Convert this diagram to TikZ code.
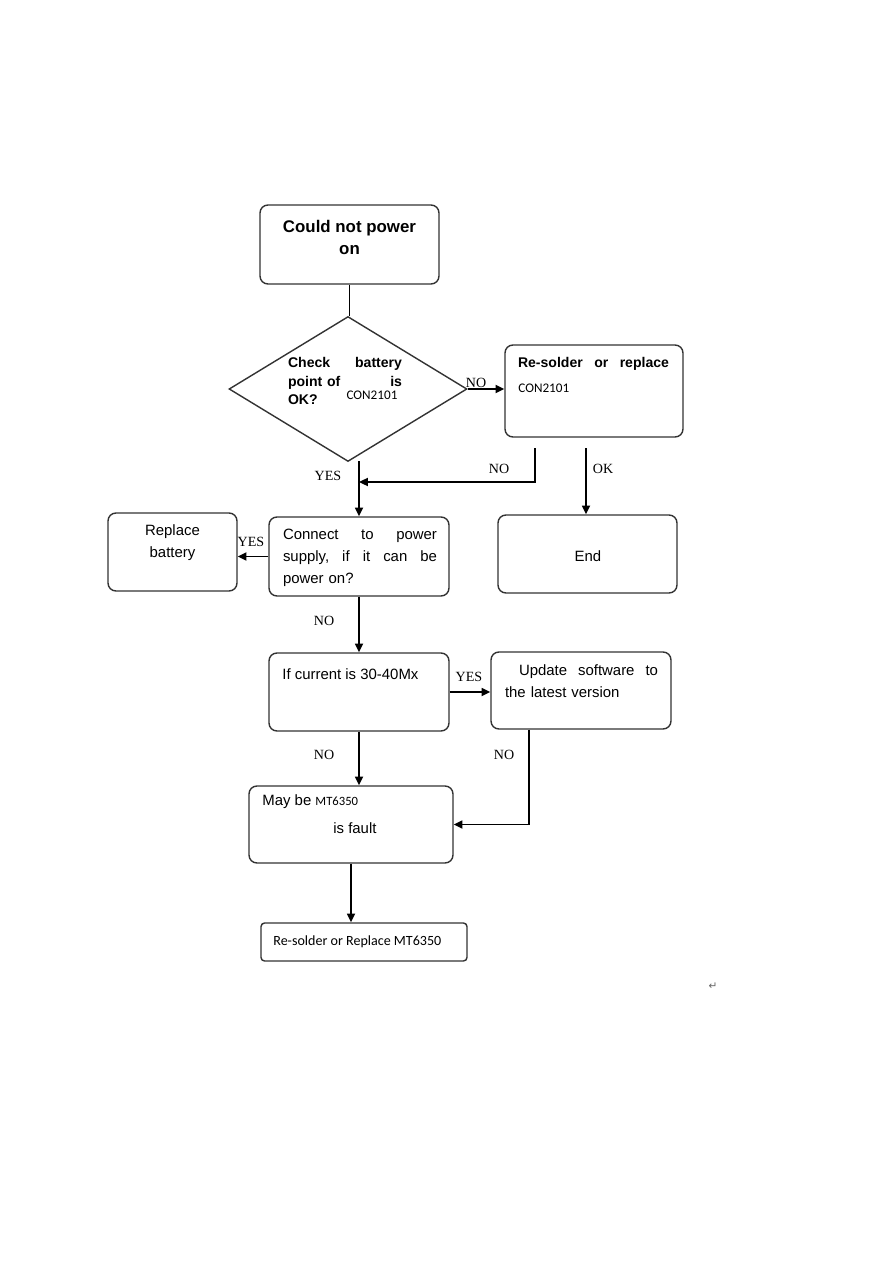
\documentclass[tikz,border=0pt]{standalone}
\usepackage{fontspec}
\setmainfont{Liberation Sans}
\newfontfamily\calfont{Carlito}
\newfontfamily\tmsfont{Liberation Serif}
\newfontfamily\djfont{DejaVu Sans}
\usetikzlibrary{arrows.meta,shapes.geometric}
\begin{document}
\begin{tikzpicture}[x=0.02cm,y=-0.02cm,
  box/.style={draw=black!80, line width=0.8pt, rounded corners=4.5pt, inner sep=0pt},
  arr/.style={draw, line width=1.1pt, -{Triangle[length=5pt,width=4.5pt]}},
  ln/.style={draw, line width=1.1pt},
  lbl/.style={font=\tmsfont\fontsize{8}{9}\selectfont, inner sep=0pt},
  txt/.style={font=\fontsize{8.5}{12.5}\selectfont, inner sep=0pt},
  btxt/.style={font=\bfseries\fontsize{8}{10.8}\selectfont, inner sep=0pt},
  ctxt/.style={inner sep=0pt}]
\useasboundingbox (0,0) rectangle (884,1263);

% boxes
\node[box, minimum width=35.8mm, minimum height=15.8mm] (top) at (349.5,244.5) {};
\node[diamond, draw=black!80, line width=0.8pt, inner sep=0pt, minimum width=47.6mm, minimum height=29mm] (dia) at (348,389) {};
\node[box, minimum width=35.6mm, minimum height=18.4mm] (res) at (594,391) {};
\node[box, minimum width=25.8mm, minimum height=15.6mm] (rep) at (172.5,552) {};
\node[box, minimum width=36mm, minimum height=15.8mm] (con) at (359,556.5) {};
\node[box, minimum width=35.8mm, minimum height=15.6mm] (end) at (587.5,554) {};
\node[box, minimum width=36mm, minimum height=15.6mm] (cur) at (359,692) {};
\node[box, minimum width=36mm, minimum height=15.4mm] (upd) at (581,690.5) {};
\node[box, minimum width=40.8mm, minimum height=15.4mm] (may) at (351,824.5) {};
\node[box, rounded corners=2pt, minimum width=41.2mm, minimum height=7.6mm] (fin) at (364,942) {};

% texts
\node[font=\bfseries\fontsize{9.6}{12.5}\selectfont, align=center, inner sep=0pt] (topT) at (349.5,237) {Could not power\\on};
\node[btxt, text width=22.8mm, align=left] (diaT) at (345,381) {Check\hfill battery\\point of\hfill is\\OK?};
\node[ctxt, font=\calfont\fontsize{7.5}{9}\selectfont] (diaC) at (372,395) {CON2101};
\node[btxt, text width=30.2mm, align=left] (resT) at (593.5,364) {Re-solder\hfill or\hfill replace};
\node[ctxt, font=\calfont\fontsize{7.5}{9}\selectfont, anchor=west] (resC) at (518,388) {CON2101};
\node[txt, align=center] (repT) at (172.5,543) {Replace\\battery};
\node[txt, text width=30.8mm, align=left] (conT) at (360,558) {Connect\hfill to\hfill power\\supply,\hfill if\hfill it\hfill can\hfill be\\power on?};
\node[txt] (endT) at (588,556) {End};
\node[txt, anchor=west] (curT) at (282,674) {If current is 30-40Mx};
\node[txt, text width=30.6mm, align=left] (updT) at (581.5,681) {\hspace*{2.8mm}Update\hfill software\hfill to\\the latest version};
\node[txt, anchor=base west] (mayT) at (262,805) {May be {\calfont\fontsize{7.2}{9}\selectfont MT6350}};
\node[txt, anchor=base west] (mayT2) at (333,833) {is fault};
\node[ctxt, font=\calfont\fontsize{8}{9.6}\selectfont, anchor=west] (finT) at (273,942) {Re-solder or Replace MT6350};
\node[ctxt, font=\djfont\fontsize{6}{7}\selectfont, text=black!60] (ret) at (713,986) {↵};

% connectors
\draw[ln] (top.south) -- (top.south |- dia.north);
\draw[arr] (dia.east) -- (dia.east -| res.west);
\coordinate (noA) at (535,448);
\coordinate (okA) at (586,448);
\coordinate (yesA) at (359,461);
\draw[arr] (yesA) -- (con.north);
\draw[arr] (noA) |- (yesA |- 0,482);
\draw[arr] (okA) -- (okA |- end.north);
\draw[arr] (con.west) -- (con.west -| rep.east);
\draw[arr] (con.south) -- (cur.north);
\draw[arr] (cur.east) -- (cur.east -| upd.west);
\draw[arr] (cur.south) -- (cur.south |- may.north);
\draw[arr] (upd.south west) ++(39,0) |- (may.east);
\draw[arr] (may.south) -- (may.south |- fin.north);

% labels
\node[lbl] (l1) at (476,383) {NO};
\node[lbl] (l2) at (328,476) {YES};
\node[lbl] (l3) at (499,469) {NO};
\node[lbl] (l4) at (603,469) {OK};
\node[lbl] (l5) at (251,542) {YES};
\node[lbl] (l6) at (324,621) {NO};
\node[lbl] (l7) at (469,677) {YES};
\node[lbl] (l8) at (324,755) {NO};
\node[lbl] (l9) at (504,755) {NO};
\end{tikzpicture}
\end{document}
